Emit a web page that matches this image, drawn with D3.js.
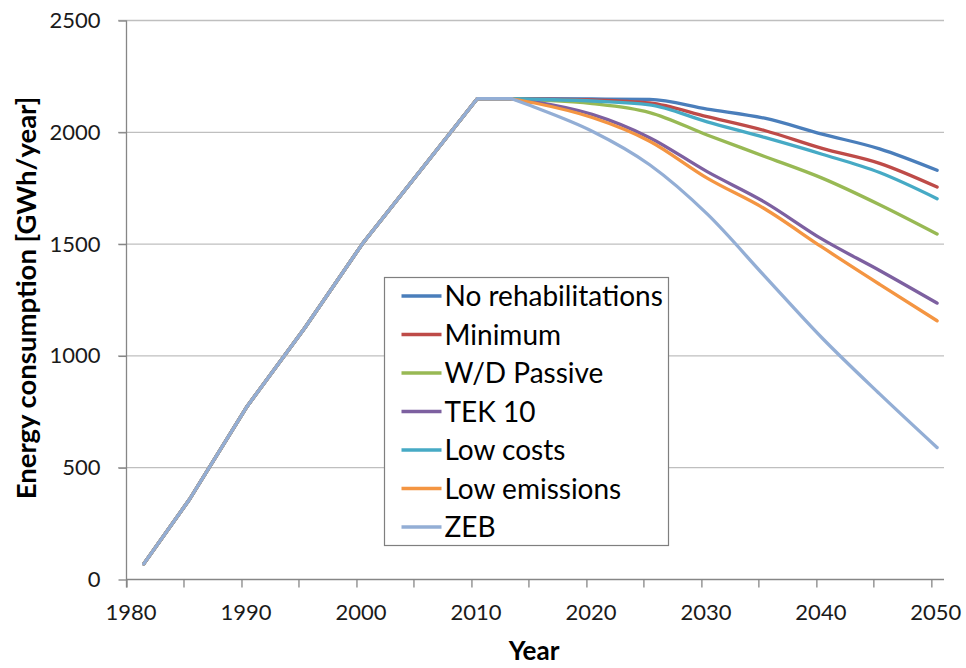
<!DOCTYPE html>
<html lang="en">
<head>
<meta charset="utf-8" />
<title>Energy consumption scenarios</title>
<script src="https://cdn.jsdelivr.net/npm/d3@7"></script>
<style>
  body { margin: 0; background: #fff; }
  svg { display: block; font-family: Lato, "Open Sans", sans-serif; }
  .grid line { stroke: #bfbfbf; stroke-width: 1.3px; }
  .axis path, .axis line { stroke: #868686; stroke-width: 1.3px; }
  .axis text { fill: #1a1a1a; font-size: 22px; font-family: Lato, "Open Sans", sans-serif; }
</style>
</head>
<body>
<div id="chart"></div>
<script>
var width = 966, height = 668;

// common history (all scenarios)
var histYears  = [1981, 1985, 1990, 1995, 2000, 2005, 2010, 2013];
var histValues = [70, 360, 775, 1125, 1500, 1825, 2150, 2150];

// projections
var projYears = [2013, 2015, 2020, 2025, 2030, 2035, 2040, 2045, 2050];
var seriesNames = ["No rehabilitations", "Minimum", "W/D Passive", "TEK 10", "Low costs", "Low emissions", "ZEB"];
var noRehab      = [2150, 2150, 2149, 2147, 2104, 2063, 1992, 1926, 1830];
var minimum      = [2150, 2149, 2145, 2131, 2070, 2008, 1928, 1861, 1755];
var wdPassive    = [2150, 2145, 2128, 2088, 1988, 1892, 1795, 1676, 1545];
var tek10        = [2150, 2136, 2080, 1976, 1824, 1688, 1522, 1382, 1236];
var lowCosts     = [2150, 2148, 2140, 2123, 2047, 1977, 1902, 1820, 1703];
var lowEmissions = [2150, 2131, 2066, 1960, 1795, 1658, 1486, 1320, 1157];
var zeb          = [2150, 2112, 2005, 1855, 1635, 1357, 1080, 830, 590];
var seriesColors = ["#4a7ebb", "#be4b48", "#98b954", "#7d60a0", "#46aac5", "#f49542", "#93aed5"];

var yTicks = [0, 500, 1000, 1500, 2000, 2500];
var xLabels = [1980, 1990, 2000, 2010, 2020, 2030, 2040, 2050];
var xMinor = [1985, 1995, 2005, 2015, 2025, 2035, 2045];

var allSeries = [noRehab, minimum, wdPassive, tek10, lowCosts, lowEmissions, zeb];

var x = d3.scaleLinear().domain([1980, 2051.1]).range([126.5, 944]);
var y = d3.scaleLinear().domain([0, 2500]).range([579.5, 20.5]);

var svg = d3.select("#chart").append("svg")
    .attr("width", width)
    .attr("height", height);

// gridlines
svg.append("g").attr("class", "grid")
  .selectAll("line").data(yTicks.slice(1)).enter().append("line")
    .attr("x1", 118).attr("x2", 944)
    .attr("y1", function(d) { return y(d); })
    .attr("y2", function(d) { return y(d); });

// y axis
var yAxis = svg.append("g").attr("class", "axis")
    .attr("transform", "translate(126.5,0)")
    .call(d3.axisLeft(y).tickValues(yTicks).tickFormat(d3.format("d"))
      .tickSize(8).tickPadding(18).tickSizeOuter(0));
yAxis.select(".domain").remove();
yAxis.append("line").attr("y1", y(2500)).attr("y2", y(0) + 8);

// x axis
var xAxis = svg.append("g").attr("class", "axis")
    .attr("transform", "translate(0," + y(0) + ")")
    .call(d3.axisBottom(x).tickValues(xLabels).tickFormat(d3.format("d"))
      .tickSize(8).tickPadding(17).tickSizeOuter(0));
xAxis.select(".domain").attr("d", "M" + x(1980) + ",0H" + x(2051.1));
xAxis.selectAll(".tick text").attr("dx", 4);
xAxis.selectAll(".minor").data(xMinor).enter().append("line")
    .attr("class", "minor")
    .attr("x1", function(d) { return x(d); })
    .attr("x2", function(d) { return x(d); })
    .attr("y1", 0).attr("y2", 8);

// lines (points sit mid-year)
var hist = histYears.map(function(yr, i) { return [yr, histValues[i]]; });
var histLine = d3.line()
    .x(function(d) { return x(d[0] + 0.5); })
    .y(function(d) { return y(d[1]); });
var projLine = d3.line().curve(d3.curveMonotoneX)
    .x(function(d) { return x(d[0] + 0.5); })
    .y(function(d) { return y(d[1]); });

allSeries.forEach(function(vals, k) {
  var g = svg.append("g")
      .attr("fill", "none").attr("stroke", seriesColors[k])
      .attr("stroke-width", 3.3).attr("stroke-linejoin", "round").attr("stroke-linecap", "round");
  var proj = projYears.map(function(yr, i) { return [yr, vals[i]]; });
  g.append("path").attr("d", histLine(hist));
  g.append("path").attr("d", projLine(proj));
});

// legend
var legend = svg.append("g").attr("transform", "translate(384.5,277.5)");
legend.append("rect")
    .attr("width", 284).attr("height", 268)
    .attr("fill", "#fff").attr("stroke", "#7f7f7f").attr("stroke-width", 1.2);
var item = legend.selectAll(".item").data(seriesNames).enter().append("g")
    .attr("class", "item")
    .attr("transform", function(d, i) { return "translate(0," + (18.5 + i * 38.5) + ")"; });
item.append("line")
    .attr("x1", 17).attr("x2", 57)
    .attr("stroke", function(d, i) { return seriesColors[i]; })
    .attr("stroke-width", 3.3);
item.append("text")
    .attr("x", 60).attr("dy", "0.36em")
    .attr("font-size", 28).attr("fill", "#000")
    .text(function(d) { return d; });

// axis titles
svg.append("text")
    .attr("transform", "translate(36,298) rotate(-90)")
    .attr("text-anchor", "middle")
    .attr("font-size", 27.5).attr("font-weight", "bold").attr("fill", "#000")
    .text("Energy consumption [GWh/year]");
svg.append("text")
    .attr("x", 534).attr("y", 660)
    .attr("text-anchor", "middle")
    .attr("font-size", 26).attr("font-weight", "bold").attr("fill", "#000")
    .text("Year");
</script>
</body>
</html>
